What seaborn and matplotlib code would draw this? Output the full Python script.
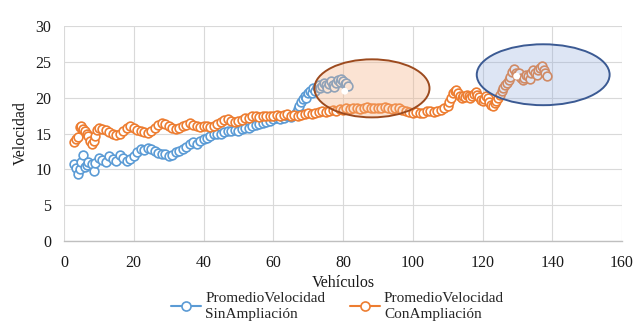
import seaborn as sns
import matplotlib.pyplot as plt
from matplotlib.patches import Ellipse
from matplotlib.lines import Line2D

# Series: PromedioVelocidad SinAmpliación (blue)
sin_x = [3, 3.5, 4, 4.5, 5, 5.5, 6, 6.5, 7, 8, 8.5, 9, 10, 11, 12, 13, 14, 15, 16, 17,
         18, 19, 20, 21, 22, 23, 24, 25, 26, 27, 28, 29, 30, 31, 32, 33, 34, 35, 36, 37,
         38, 39, 40, 41, 42, 43, 44, 45, 46, 47, 48, 49, 50, 51, 52, 53, 54, 55, 56, 57,
         58, 59, 60, 61, 62, 63, 64, 65, 66, 66.5, 67, 67.5, 68, 68.5, 69, 69.5, 70, 70.5,
         71, 71.5, 72, 72.5, 73, 73.5, 74, 74.5, 75, 75.5, 76, 76.5, 77, 77.5, 78, 78.5,
         79, 79.5, 80, 80.5, 81, 81.5]
sin_y = [10.8, 10.2, 9.4, 10.0, 11.0, 12.0, 10.3, 10.6, 11.0, 10.8, 9.8, 10.9, 11.6, 11.3,
         11.0, 11.8, 11.5, 11.2, 12.0, 11.6, 11.2, 11.5, 11.9, 12.4, 12.8, 12.7, 13.0, 12.8,
         12.5, 12.3, 12.1, 12.2, 11.9, 12.0, 12.4, 12.6, 12.8, 13.1, 13.5, 13.8, 13.6, 14.0,
         14.2, 14.4, 14.7, 14.9, 15.0, 15.0, 15.2, 15.3, 15.4, 15.5, 15.4, 15.6, 15.8, 15.8,
         16.0, 16.2, 16.3, 16.5, 16.6, 16.8, 17.0, 17.1, 17.0, 17.2, 17.4, 17.3, 17.6, 17.9,
         18.4, 18.9, 19.4, 19.8, 20.3, 19.9, 20.6, 21.0, 20.7, 21.3, 21.0, 21.5, 21.8, 21.4,
         21.6, 22.0, 21.7, 21.4, 21.9, 22.3, 21.8, 21.5, 22.1, 22.5, 22.2, 22.6, 22.3, 21.9,
         22.1, 21.6]

# Series: PromedioVelocidad ConAmpliación (orange)
con_x = [3, 3.5, 4, 4.5, 5, 5.5, 6, 6.5, 7, 7.5, 8, 8.5, 9, 9.5, 10, 11, 12, 13, 14, 15,
         16, 17, 18, 19, 20, 21, 22, 23, 24, 25, 26, 27, 28, 29, 30, 31, 32, 33, 34, 35,
         36, 37, 38, 39, 40, 41, 42, 43, 44, 45, 46, 47, 48, 49, 50, 51, 52, 53, 54, 55,
         56, 57, 58, 59, 60, 61, 62, 63, 64, 65, 66, 67, 68, 69, 70, 71, 72, 73, 74, 75,
         76, 77, 78, 79, 80, 81, 82, 83, 84, 85, 86, 87, 88, 89, 90, 91, 92, 93, 94, 95,
         96, 97, 98, 99, 100, 101, 102, 103, 104, 105, 106, 107, 108, 109, 110, 110.5, 111,
         111.5, 112, 112.5, 113, 113.5, 114, 114.5, 115, 115.5, 116, 116.5, 117, 117.5, 118,
         118.5, 119, 119.5, 120, 120.5, 121, 121.5, 122, 122.5, 123, 123.5, 124, 124.5, 125,
         125.5, 126, 126.5, 127, 127.5, 128, 128.5, 129, 129.5, 130, 130.5, 131, 131.5, 132,
         132.5, 133, 133.5, 134, 134.5, 135, 135.5, 136, 136.5, 137, 137.5, 138, 138.5]
con_y = [13.8, 14.3, 14.5, 15.9, 16.0, 15.6, 15.4, 15.0, 14.6, 14.0, 13.5, 14.0, 14.6, 15.5,
         15.7, 15.6, 15.5, 15.2, 15.0, 14.8, 15.0, 15.4, 15.8, 16.1, 15.8, 15.5, 15.4, 15.2,
         15.1, 15.4, 15.8, 16.2, 16.5, 16.3, 16.0, 15.8, 15.6, 15.8, 16.0, 16.2, 16.4, 16.2,
         16.0, 15.9, 16.0, 16.1, 15.9, 16.1, 16.3, 16.6, 16.9, 17.0, 16.8, 16.6, 16.7, 16.9,
         17.1, 17.2, 17.4, 17.5, 17.3, 17.4, 17.5, 17.4, 17.5, 17.6, 17.5, 17.6, 17.7, 17.5,
         17.6, 17.5, 17.6, 17.7, 17.8, 17.7, 17.9, 18.0, 18.1, 18.0, 18.2, 18.3, 18.2, 18.4,
         18.3, 18.5, 18.4, 18.6, 18.5, 18.4, 18.6, 18.7, 18.5, 18.6, 18.5, 18.6, 18.7, 18.5,
         18.4, 18.6, 18.5, 18.3, 18.2, 18.0, 17.9, 18.0, 17.8, 17.9, 18.1, 18.2, 18.0, 18.1,
         18.3, 18.5, 18.8, 19.4, 20.0, 20.6, 21.0, 21.1, 20.7, 20.3, 20.0, 20.2, 20.1, 20.4,
         20.3, 20.0, 20.2, 20.5, 20.8, 20.4, 20.1, 19.7, 19.5, 19.8, 20.2, 19.9, 19.4, 19.0,
         18.8, 19.2, 19.6, 19.9, 20.4, 20.9, 21.3, 21.7, 22.0, 22.4, 22.9, 23.6, 24.0, 23.5,
         23.1, 23.4, 22.8, 22.4, 22.7, 23.2, 23.0, 22.6, 23.4, 23.9, 23.5, 23.1, 23.8, 24.2,
         24.4, 23.9, 23.4, 23.0]

# highlighted points inside the ellipses
hl_x = [80.5, 129.8]
hl_y = [20.9, 23.0]

x_ticks = [0, 20, 40, 60, 80, 100, 120, 140, 160]
y_ticks = [0, 5, 10, 15, 20, 25, 30]

blue = '#5B9BD5'
orange = '#ED7D31'

sns.set_theme(style="whitegrid")
plt.rcParams['font.family'] = ['Liberation Serif', 'DejaVu Serif']

fig = plt.figure(figsize=(6.41, 3.32), dpi=100)
ax = fig.add_axes([64 / 641, 1 - 241 / 332, 558 / 641, 215 / 332])

mk = dict(marker='o', markersize=6.3, markerfacecolor='white', markeredgewidth=1.2)
sns.lineplot(x=sin_x, y=sin_y, ax=ax, sort=False, color=blue, lw=1.2,
             markeredgecolor=blue, **mk)
sns.lineplot(x=con_x, y=con_y, ax=ax, sort=False, color=orange, lw=1.2,
             markeredgecolor=orange, **mk)

# annotation ellipses
ax.add_patch(Ellipse((88.3, 21.3), 33, 8.1, facecolor='#F4B183', alpha=0.35,
                     edgecolor='none', zorder=3))
ax.add_patch(Ellipse((88.3, 21.3), 33, 8.1, facecolor='none',
                     edgecolor='#9C4A1E', lw=1.4, zorder=3))
ax.add_patch(Ellipse((137.4, 23.2), 38.1, 8.5, facecolor='#8FAADC', alpha=0.3,
                     edgecolor='none', zorder=3))
ax.add_patch(Ellipse((137.4, 23.2), 38.1, 8.5, facecolor='none',
                     edgecolor='#3B5A93', lw=1.4, zorder=3))
ax.scatter(hl_x, hl_y, s=24, color='white', edgecolor='none', zorder=4)

ax.set_xlim(0, 160)
ax.set_ylim(0, 30)
ax.set_xticks(x_ticks)
ax.set_yticks(y_ticks)
ax.grid(True, color='#D9D9D9', lw=0.8)
for s in ['top', 'right', 'left']:
    ax.spines[s].set_visible(False)
ax.spines['bottom'].set_color('#BFBFBF')
ax.spines['bottom'].set_linewidth(1.0)
ax.tick_params(axis='both', length=0, labelsize=11.5, labelcolor='#1a1a1a')
ax.tick_params(axis='x', pad=10)
ax.tick_params(axis='y', pad=9)
ax.set_facecolor('white')

ax.set_xlabel('Vehículos', fontsize=11.5, color='#1a1a1a', labelpad=3)
ax.set_ylabel('Velocidad', fontsize=11.5, color='#1a1a1a', labelpad=5)

handles = [
    Line2D([], [], color=blue, lw=1.5, marker='o', markersize=6.5,
           markerfacecolor='white', markeredgecolor=blue, markeredgewidth=1.2),
    Line2D([], [], color=orange, lw=1.5, marker='o', markersize=6.5,
           markerfacecolor='white', markeredgecolor=orange, markeredgewidth=1.2),
]
labels = ['PromedioVelocidad\nSinAmpliación', 'PromedioVelocidad\nConAmpliación']
leg = ax.legend(handles, labels, loc='upper center', bbox_to_anchor=(0.49, -0.21),
                ncol=2, frameon=False, fontsize=11, handlelength=2.0,
                handletextpad=0.25, columnspacing=1.6, borderaxespad=0,
                labelspacing=0.2)
for t in leg.get_texts():
    t.set_linespacing(1.25)

fig.savefig('out.png', dpi=100, facecolor='white')
